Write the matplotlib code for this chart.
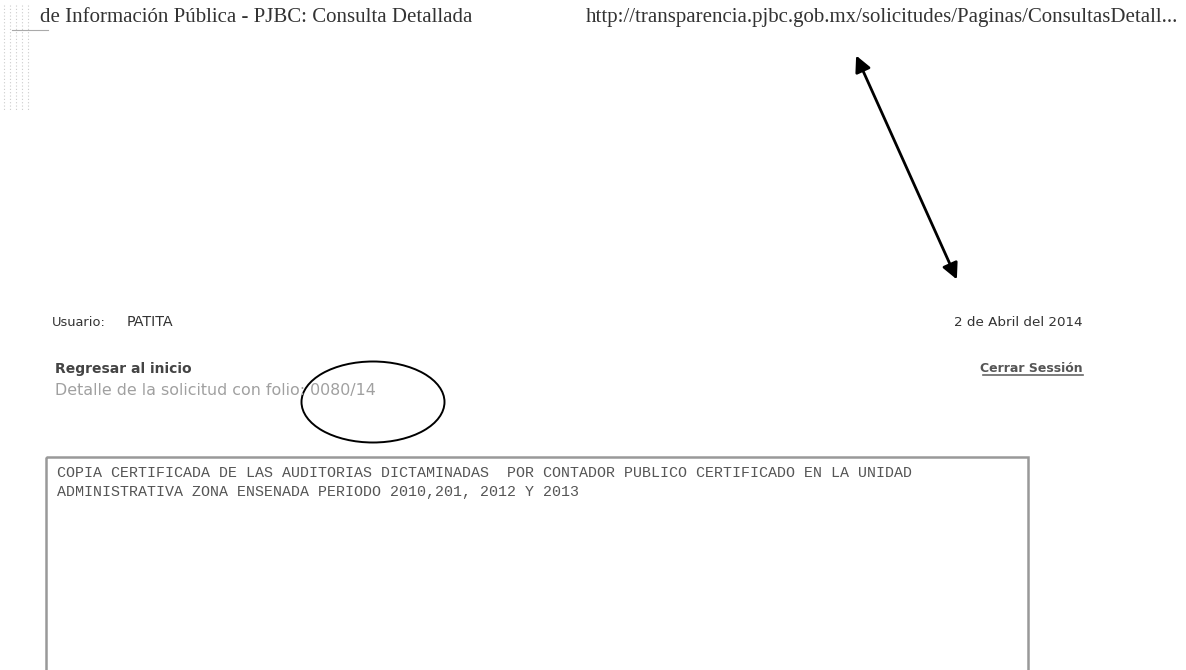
import matplotlib
matplotlib.use("Agg")
import matplotlib.pyplot as plt
from matplotlib.patches import Ellipse, Rectangle, FancyArrowPatch

# ---- content ----
header_left = "de Información Pública - PJBC: Consulta Detallada"
header_right = "http://transparencia.pjbc.gob.mx/solicitudes/Paginas/ConsultasDetall..."
user_key = "Usuario:"
user_value = "PATITA"
date_label = "2 de Abril del 2014"
back_label = "Regresar al inicio"
logout_label = "Cerrar Sessión"
detail_label = "Detalle de la solicitud con folio: 0080/14"
request_lines = [
    "COPIA CERTIFICADA DE LAS AUDITORIAS DICTAMINADAS  POR CONTADOR PUBLICO CERTIFICADO EN LA UNIDAD",
    "ADMINISTRATIVA ZONA ENSENADA PERIODO 2010,201, 2012 Y 2013",
]

W, H = 1186, 670
fig = plt.figure(figsize=(W / 100, H / 100), dpi=100)
ax = fig.add_axes([0, 0, 1, 1])
ax.set_xlim(0, W)
ax.set_ylim(H, 0)
ax.axis("off")

serif = ["Liberation Serif", "DejaVu Serif"]
sans = ["DejaVu Sans"]
mono = ["Liberation Mono", "DejaVu Sans Mono"]

# header
ax.text(40, 22, header_left, family=serif, fontsize=15, color="#333333", va="baseline", ha="left")
ax.text(586, 22, header_right, family=serif, fontsize=15, color="#333333", va="baseline", ha="left")

# faint scan artifacts on the left
for xx in [4, 10, 16, 22, 28]:
    ax.plot([xx, xx], [5, 110], color="#cccccc", lw=0.8, ls=(0, (1, 2)))
ax.plot([12, 48], [30, 30], color="#aaaaaa", lw=0.8)

# double arrow
arr = FancyArrowPatch((855, 53), (958, 282), arrowstyle="<|-|>", mutation_scale=24,
                      color="black", lw=2)
ax.add_patch(arr)

# user row
ax.text(52, 322, user_key, family=sans, fontsize=9.4, color="#333333", va="center", ha="left")
ax.text(127, 322, user_value, family=sans, fontsize=10.3, color="#333333", va="center", ha="left")
ax.text(1083, 322, date_label, family=sans, fontsize=9.7, color="#333333", va="center", ha="right")

ax.text(55, 369, back_label, family=sans, fontsize=10.0, fontweight="bold", color="#444444",
        va="center", ha="left")
ax.text(1083, 368, logout_label, family=sans, fontsize=9.0, fontweight="bold", color="#555555",
        va="center", ha="right")
ax.plot([983, 1083], [375, 375], color="#666666", lw=1.2)

ax.text(55, 390, detail_label, family=sans, fontsize=11.4, color="#a0a0a0", va="center", ha="left")

# ellipse annotation
ax.add_patch(Ellipse((373, 402), 143, 81, fill=False, edgecolor="black", lw=1.4))

# request text box
ax.add_patch(Rectangle((46, 457), 982, 260, fill=False, edgecolor="#999999", lw=1.8))
for i, line in enumerate(request_lines):
    ax.text(57, 473 + i * 19, line, family=mono, fontsize=10.8, color="#555555",
            va="center", ha="left")

fig.savefig("out.png", dpi=100, facecolor="white")
